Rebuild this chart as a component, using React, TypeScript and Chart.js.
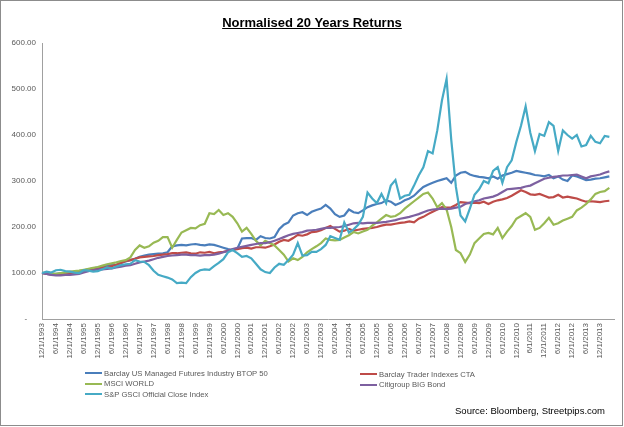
import React, { useEffect, useRef } from "react";
import { Chart, registerables } from "chart.js";

Chart.register(...registerables);

// bi-monthly categories from 12/1/1993, one empty slot at the end
const START_YEAR = 1993;
const START_MONTH = 12;
const STEP_MONTHS = 2;
const CATEGORY_COUNT = 124;
const LAST_LABEL_INDEX = 120; // 12/1/2013

const categories: string[] = [];
for (let i = 0; i < CATEGORY_COUNT; i++) {
  const m = START_MONTH - 1 + i * STEP_MONTHS;
  categories.push(`${(m % 12) + 1}/1/${START_YEAR + Math.floor(m / 12)}`);
}

const yTickValues = [0, 100, 200, 300, 400, 500, 600];

const seriesNames = [
  "Barclay US Managed Futures Industry BTOP 50",
  "Barclay Trader Indexes CTA",
  "MSCI WORLD",
  "Citigroup BIG Bond",
  "S&P GSCI Official Close Index",
];

const btop50 = [
  100, 98, 97, 98, 99, 100, 101, 102, 104, 106, 108, 110, 112, 114, 116, 117, 118, 122, 125, 128,
  131, 135, 138, 140, 141, 142, 143, 145, 158, 160, 161, 160, 162, 163, 161, 160, 162, 161, 158, 155,
  152, 150, 153, 175, 176, 176, 172, 180, 176, 175, 178, 195, 205, 210, 225, 230, 232, 226, 233, 237,
  240, 248, 240, 228, 222, 225, 238, 232, 230, 236, 243, 247, 250, 252, 258, 255, 248, 252, 258, 262,
  268, 278, 287, 292, 296, 300, 303, 306, 296, 312, 318, 320, 314, 311, 309, 308, 306, 310, 305, 312,
  315, 318, 322, 320, 318, 316, 313, 312, 310, 313, 306, 310, 303, 300, 312, 310, 306, 302, 303, 305,
  306, 308, 310,
];

const ctaIndex = [
  100, 98, 97, 96, 97, 98, 99, 100, 102, 104, 106, 108, 110, 112, 113, 115, 118, 122, 126, 128,
  131, 134, 135, 136, 137, 139, 140, 141, 143, 143, 144, 145, 143, 142, 145, 144, 146, 143, 145, 146,
  148, 151, 152, 154, 155, 153, 156, 156, 155, 158, 162, 168, 172, 170, 176, 183, 181, 184, 189, 190,
  193, 198, 202, 196, 190, 192, 196, 192, 194, 196, 197, 198, 200, 203, 205, 205, 207, 209, 210, 212,
  210, 218, 222, 228, 233, 238, 243, 242, 243, 248, 254, 253, 252, 253, 252, 255, 250, 255, 258, 260,
  263, 268, 274, 280, 276, 271, 270, 272, 268, 264, 265, 270, 264, 266, 264, 262, 258, 255, 256, 255,
  254, 256, 257,
];

const msciWorld = [
  100, 101, 99, 98, 100, 101, 103, 104, 105, 107, 109, 111, 113, 116, 119, 121, 123, 126, 128, 134,
  150, 160, 155, 158, 166, 170, 178, 178, 155, 172, 188, 193, 198, 197, 204, 207, 230, 228, 237, 226,
  230, 222, 208, 190, 198, 185, 170, 160, 170, 165, 160, 150, 140, 125, 132, 128, 135, 145, 152, 158,
  165, 175, 172, 171, 172, 177, 182, 189, 186, 190, 194, 203, 210, 218, 226, 222, 224, 230, 240, 248,
  256, 264, 272, 275, 262, 243, 252, 238, 200, 150, 143, 124, 140, 165, 175, 185, 187, 184, 198, 176,
  190, 202, 218, 224, 230, 222, 194, 198, 208, 220, 205, 208, 214, 218, 222, 236, 242, 250, 260, 272,
  276, 278, 285,
];

const bigBond = [
  100, 98, 96, 95, 95, 96, 96, 97, 98, 101, 104, 106, 108, 108, 109, 110, 112, 114, 116, 117,
  120, 123, 125, 127, 130, 133, 135, 137, 138, 139, 140, 140, 139, 139, 138, 139, 139, 140, 142, 145,
  148, 152, 155, 157, 159, 161, 163, 165, 165, 167, 170, 174, 178, 182, 185, 187, 189, 192, 193, 194,
  196, 198, 198, 199, 200, 202, 205, 208, 209, 208, 209, 209, 209, 210, 211, 213, 215, 218, 220, 222,
  225, 228, 232, 236, 238, 239, 240, 239, 240, 242, 244, 250, 253, 256, 258, 262, 264, 266, 270, 276,
  282, 283, 284, 285, 288, 290, 295, 300, 305, 307, 309, 310, 312, 312, 313, 314, 310, 306, 310, 312,
  314, 318, 321,
];

const gsci = [
  100, 103, 101, 106, 107, 104, 103, 101, 100, 106, 105, 103, 104, 108, 112, 110, 114, 117, 119, 120,
  128, 125, 124, 117, 105, 96, 93, 90, 86, 78, 79, 78, 91, 100, 106, 108, 107, 115, 122, 130,
  145, 150, 143, 135, 137, 132, 120, 108, 102, 100, 112, 120, 118, 128, 140, 165, 138, 139, 146, 146,
  152, 161, 180, 176, 172, 210, 188, 195, 205, 222, 275, 262, 252, 272, 252, 290, 302, 262, 268, 270,
  290, 312, 330, 365, 360, 410, 475, 522, 390, 287, 225, 212, 240, 270, 282, 300, 295, 322, 330, 296,
  330, 345, 385, 420, 462, 405, 365, 402, 398, 428, 420, 365, 410, 400, 392, 400, 375, 378, 398, 385,
  382, 398, 396,
];

const seriesValues = [btop50, ctaIndex, msciWorld, bigBond, gsci];
const seriesColors = ["#4a7ebb", "#be4b48", "#98b954", "#7d60a0", "#46aac5"];

// legend slots: [column, row]
const legendSlots: [number, number][] = [
  [0, 0],
  [1, 0],
  [0, 1],
  [1, 1],
  [0, 2],
];

const FONT = "'Liberation Sans', Arial, sans-serif";

const App: React.FC = () => {
  const canvasRef = useRef<HTMLCanvasElement>(null);
  const chartRef = useRef<Chart | null>(null);

  useEffect(() => {
    if (!canvasRef.current) return;
    const ctx = canvasRef.current.getContext("2d");
    if (!ctx) return;

    chartRef.current = new Chart(ctx, {
      type: "line",
      data: {
        labels: categories,
        datasets: seriesNames.map((name, i) => ({
          label: name,
          data: seriesValues[i],
          borderColor: seriesColors[i],
          backgroundColor: seriesColors[i],
          borderWidth: 2.2,
          pointRadius: 0,
          tension: 0,
          fill: false,
          order: seriesNames.length - i,
        })),
      },
      options: {
        responsive: false,
        animation: false,
        layout: { padding: { top: 43, right: 10, bottom: 0, left: 0 } },
        plugins: {
          legend: { display: false },
          title: { display: false },
          tooltip: { enabled: false },
        },
        scales: {
          x: {
            offset: false,
            grid: { display: false, drawTicks: false },
            border: { display: true, color: "#a0a0a0", width: 1 },
            afterFit: (scale) => {
              scale.height = 108;
            },
            ticks: {
              autoSkip: false,
              minRotation: 90,
              maxRotation: 90,
              padding: 4,
              color: "#595959",
              font: { family: FONT, size: 8 },
              callback: (_v, idx) =>
                idx % 3 === 0 && idx <= LAST_LABEL_INDEX ? categories[idx] : null,
            },
          },
          y: {
            min: 0,
            max: 600,
            grid: { display: false, drawTicks: false },
            border: { display: true, color: "#a0a0a0", width: 1 },
            afterFit: (scale) => {
              scale.width = 42;
            },
            afterBuildTicks: (scale) => {
              scale.ticks = yTickValues.map((v) => ({ value: v }));
            },
            ticks: {
              padding: 6,
              color: "#595959",
              font: { family: FONT, size: 8 },
              callback: (v) => (Number(v) === 0 ? "-    " : Number(v).toFixed(2)),
            },
          },
        },
      },
    });

    return () => {
      chartRef.current?.destroy();
      chartRef.current = null;
    };
  }, []);

  return (
    <div
      style={{
        position: "fixed",
        left: 0,
        top: 0,
        width: 624,
        height: 427,
        background: "#fff",
        overflow: "hidden",
      }}
    >
      <canvas
        ref={canvasRef}
        width={624}
        height={427}
        style={{ position: "absolute", left: 0, top: 0, width: 624, height: 427 }}
      />
      <div
        style={{
          position: "absolute",
          left: 0,
          top: 0,
          width: 623,
          height: 426,
          border: "1px solid #8c8c8c",
          boxSizing: "border-box",
          pointerEvents: "none",
        }}
      />
      <div
        style={{
          position: "absolute",
          left: 0,
          width: 624,
          top: 15,
          textAlign: "center",
          fontFamily: FONT,
          fontWeight: "bold",
          fontSize: 13,
          textDecoration: "underline",
          color: "#000",
        }}
      >
        Normalised 20 Years Returns
      </div>
      {seriesNames.map((name, i) => {
        const [col, row] = legendSlots[i];
        const left = col === 0 ? 85 : 360;
        const top = (col === 0 ? 368 : 369) + row * 10.5;
        return (
          <div
            key={name}
            style={{
              position: "absolute",
              left,
              top,
              height: 10,
              display: "flex",
              alignItems: "center",
              fontFamily: FONT,
              fontSize: 7.7,
              color: "#595959",
              whiteSpace: "nowrap",
            }}
          >
            <span
              style={{
                display: "inline-block",
                width: 17,
                height: 2,
                background: seriesColors[i],
                marginRight: 2,
              }}
            />
            {name}
          </div>
        );
      })}
      <div
        style={{
          position: "absolute",
          right: 19,
          top: 405,
          fontFamily: FONT,
          fontSize: 9.5,
          color: "#000",
          whiteSpace: "nowrap",
        }}
      >
        Source: Bloomberg, Streetpips.com
      </div>
    </div>
  );
};

export default App;
